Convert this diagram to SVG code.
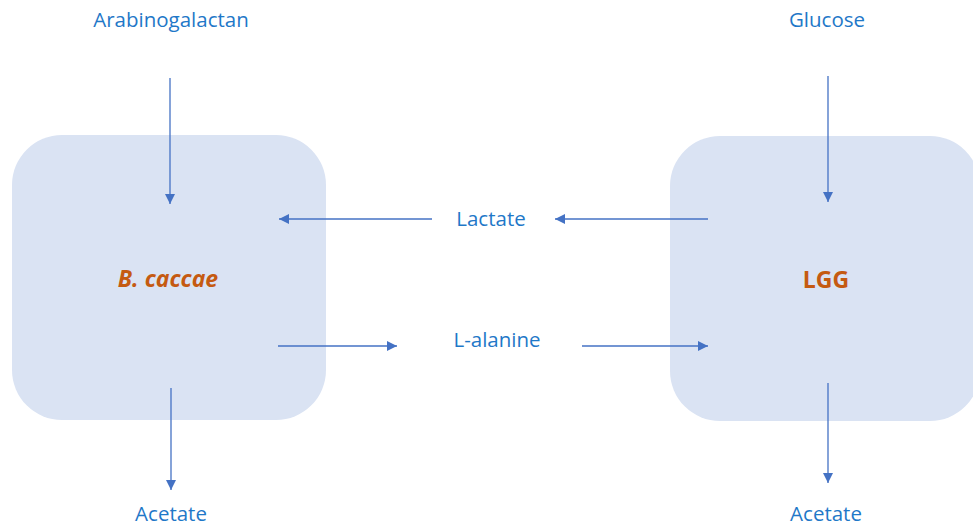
<svg xmlns="http://www.w3.org/2000/svg" width="973" height="528" viewBox="0 0 973 528">
  <defs>
    <marker id="arrow" viewBox="0 0 10 10" refX="10" refY="5" markerWidth="10" markerHeight="10" markerUnits="userSpaceOnUse" orient="auto">
      <path d="M0,0 L10,5 L0,10 z" fill="#4472C4"/>
    </marker>
    <style>
      .cell { fill: #DAE3F3; }
      .label { font-family: "Open Sans", "Liberation Sans", sans-serif; font-size: 20.5px; fill: #1F78C8; text-anchor: middle; }
      .name { font-family: "Open Sans", "Liberation Sans", sans-serif; font-size: 23px; font-weight: bold; fill: #C55A11; text-anchor: middle; }
      .link { stroke: #4472C4; stroke-width: 1.3; fill: none; marker-end: url(#arrow); }
    </style>
  </defs>
  <rect width="973" height="528" fill="#ffffff"/>

  <g id="b-caccae">
    <rect class="cell" x="12" y="135" width="314" height="285" rx="50" ry="50"/>
    <text class="name" x="168" y="287" font-style="italic">B. caccae</text>
  </g>

  <g id="lgg">
    <rect class="cell" x="670" y="136" width="310" height="285" rx="50" ry="50"/>
    <text class="name" x="826" y="288">LGG</text>
  </g>

  <g id="arabinogalactan">
    <text class="label" x="171" y="27">Arabinogalactan</text>
  </g>
  <g id="glucose">
    <text class="label" x="827" y="27">Glucose</text>
  </g>
  <g id="lactate">
    <text class="label" x="491" y="226">Lactate</text>
  </g>
  <g id="l-alanine">
    <text class="label" x="497" y="347">L-alanine</text>
  </g>
  <g id="acetate-left">
    <text class="label" x="171" y="521">Acetate</text>
  </g>
  <g id="acetate-right">
    <text class="label" x="826" y="521">Acetate</text>
  </g>

  <g id="connectors">
    <line class="link" x1="170" y1="78" x2="170" y2="204"/>
    <line class="link" x1="828" y1="76" x2="828" y2="202"/>
    <line class="link" x1="432" y1="219" x2="279" y2="219"/>
    <line class="link" x1="708" y1="219" x2="555" y2="219"/>
    <line class="link" x1="278" y1="346" x2="397" y2="346"/>
    <line class="link" x1="582" y1="346" x2="708" y2="346"/>
    <line class="link" x1="171" y1="388" x2="171" y2="490"/>
    <line class="link" x1="828" y1="383" x2="828" y2="483"/>
  </g>
</svg>
